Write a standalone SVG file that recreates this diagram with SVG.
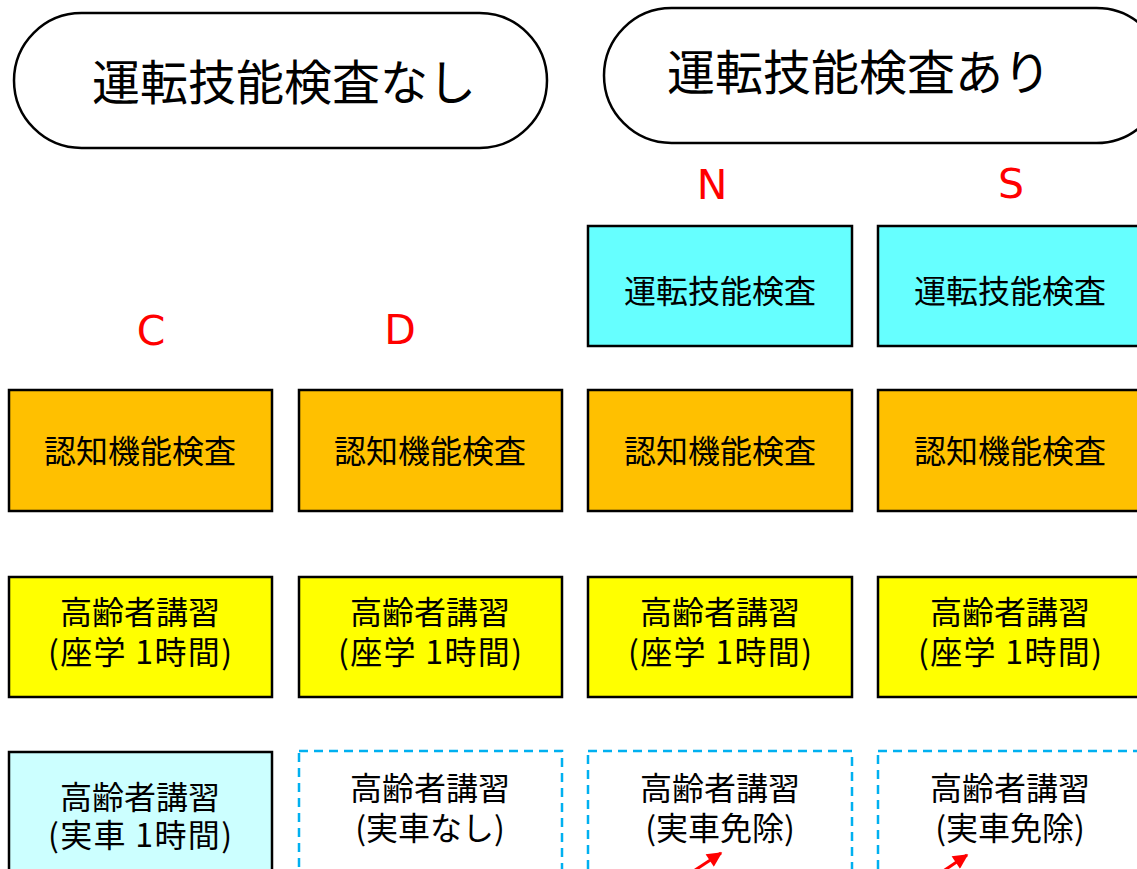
<svg xmlns="http://www.w3.org/2000/svg" width="1137" height="869" viewBox="0 0 1137 869">
<defs>
<style>
text{font-family:"Noto Sans CJK JP","Noto Sans",sans-serif;fill:#000;text-anchor:middle}
.pill{fill:#fff;stroke:#000;stroke-width:2.5}
.t-pill{font-size:48px}
.lbl{font-family:"DejaVu Sans","Noto Sans",sans-serif;fill:#f00;font-size:41px}
.box{stroke:#000;stroke-width:2.5}
.skill{fill:#66FFFF}
.cog{fill:#FFC000}
.lec{fill:#FFFF00}
.car{fill:#CCFFFF}
.dash{fill:#fff;stroke:#00B0F0;stroke-width:2.5;stroke-dasharray:9 6}
.t{font-size:32px}
.arr{stroke:#f00;stroke-width:3;fill:none}
</style>
<marker id="ah" viewBox="0 0 10 10" refX="9" refY="5" markerWidth="5.5" markerHeight="5" orient="auto" markerUnits="strokeWidth">
<path d="M0,0 L10,5 L0,10 Z" fill="#f00"/>
</marker>
</defs>

<g id="pill-none">
<rect class="pill" x="14" y="13" width="533" height="135" rx="67.5"/>
<text class="t-pill" x="284" y="100">運転技能検査なし</text>
</g>
<g id="pill-with">
<rect class="pill" x="604" y="8" width="560" height="135" rx="67.5"/>
<text class="t-pill" x="859" y="90">運転技能検査あり</text>
</g>

<g id="label-C"><text class="lbl" x="151" y="345">C</text></g>
<g id="label-D"><text class="lbl" x="400" y="344">D</text></g>
<g id="label-N"><text class="lbl" x="712" y="199">N</text></g>
<g id="label-S"><text class="lbl" x="1011" y="198">S</text></g>

<g id="N-skill"><rect class="box skill" x="588" y="226" width="264" height="120"/><text class="t" x="720" y="303">運転技能検査</text></g>
<g id="S-skill"><rect class="box skill" x="878" y="226" width="264" height="120"/><text class="t" x="1010" y="303">運転技能検査</text></g>

<g id="C-cog"><rect class="box cog" x="9" y="390" width="263" height="121"/><text class="t" x="140" y="463">認知機能検査</text></g>
<g id="D-cog"><rect class="box cog" x="299" y="390" width="263" height="121"/><text class="t" x="430" y="463">認知機能検査</text></g>
<g id="N-cog"><rect class="box cog" x="588" y="390" width="264" height="121"/><text class="t" x="720" y="463">認知機能検査</text></g>
<g id="S-cog"><rect class="box cog" x="878" y="390" width="264" height="121"/><text class="t" x="1010" y="463">認知機能検査</text></g>

<g id="C-lec"><rect class="box lec" x="9" y="577" width="263" height="120"/><text class="t" x="140" y="624">高齢者講習</text><text class="t" x="140" y="664" textLength="184" lengthAdjust="spacing">(座学 1時間)</text></g>
<g id="D-lec"><rect class="box lec" x="299" y="577" width="263" height="120"/><text class="t" x="430" y="624">高齢者講習</text><text class="t" x="430" y="664" textLength="184" lengthAdjust="spacing">(座学 1時間)</text></g>
<g id="N-lec"><rect class="box lec" x="588" y="577" width="264" height="120"/><text class="t" x="720" y="624">高齢者講習</text><text class="t" x="720" y="664" textLength="184" lengthAdjust="spacing">(座学 1時間)</text></g>
<g id="S-lec"><rect class="box lec" x="878" y="577" width="264" height="120"/><text class="t" x="1010" y="624">高齢者講習</text><text class="t" x="1010" y="664" textLength="184" lengthAdjust="spacing">(座学 1時間)</text></g>

<g id="C-car"><rect class="box car" x="9" y="752" width="263" height="140"/><text class="t" x="140" y="809">高齢者講習</text><text class="t" x="140" y="847" textLength="184" lengthAdjust="spacing">(実車 1時間)</text></g>
<g id="D-car"><rect class="dash" x="299" y="751" width="263" height="140"/><text class="t" x="430" y="800">高齢者講習</text><text class="t" x="430" y="840">(実車なし)</text></g>
<g id="N-car"><rect class="dash" x="588" y="751" width="264" height="140"/><text class="t" x="720" y="800">高齢者講習</text><text class="t" x="720" y="840">(実車免除)</text></g>
<g id="S-car"><rect class="dash" x="878" y="751" width="264" height="140"/><text class="t" x="1010" y="800">高齢者講習</text><text class="t" x="1010" y="840">(実車免除)</text></g>

<g id="connectors">
<line class="arr" x1="680" y1="880" x2="721" y2="853" marker-end="url(#ah)"/>
<line class="arr" x1="930" y1="880" x2="967" y2="855" marker-end="url(#ah)"/>
</g>
</svg>
